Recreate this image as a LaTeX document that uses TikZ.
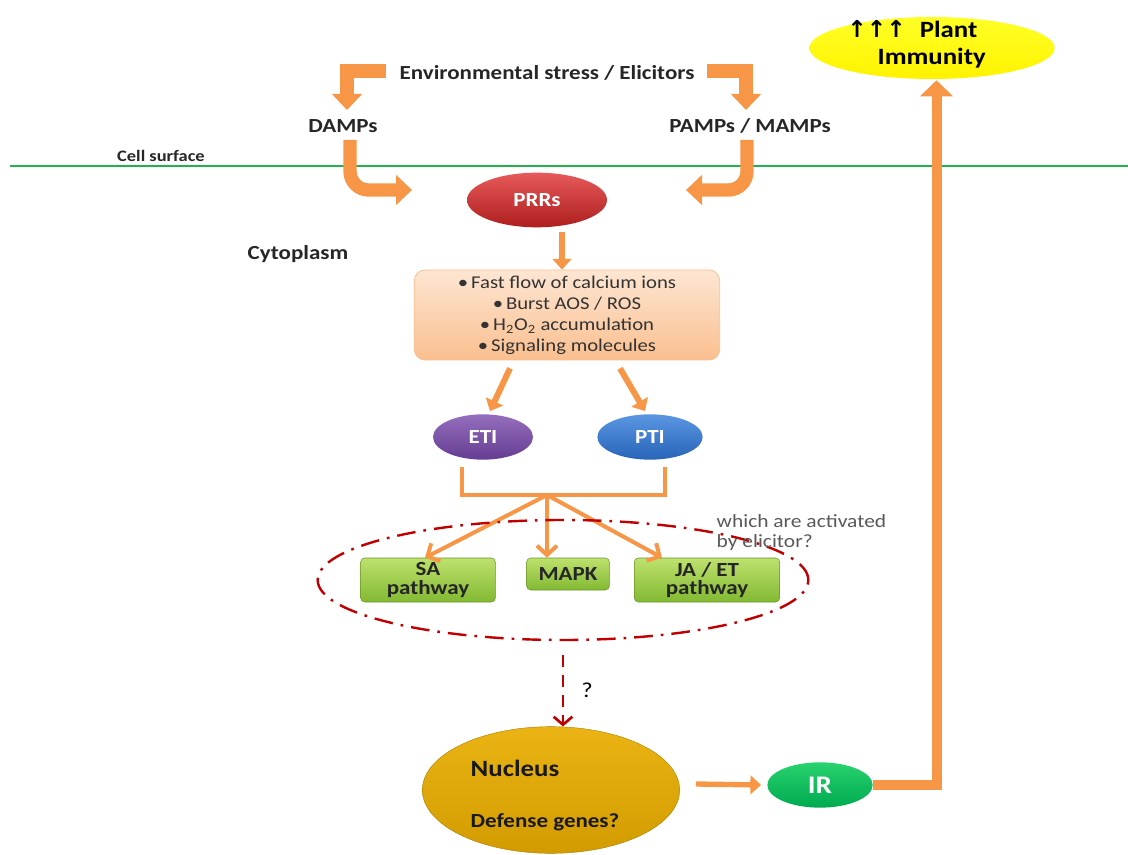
\documentclass[tikz,border=0pt]{standalone}
\usepackage{fontspec}
\setmainfont[FakeStretch=1.15]{Carlito}
\newfontfamily\symfont{DejaVu Sans}
\usetikzlibrary{arrows.meta,shapes.geometric,calc}
\definecolor{orA}{RGB}{247,150,70}
\definecolor{orD}{RGB}{228,108,10}
\definecolor{peach}{RGB}{252,213,181}
\definecolor{peachD}{RGB}{250,191,143}
\definecolor{lineG}{RGB}{34,177,76}
\definecolor{redD}{RGB}{192,0,0}
\definecolor{prrT}{RGB}{230,90,90}
\definecolor{prrB}{RGB}{175,30,30}
\definecolor{etiT}{RGB}{150,110,190}
\definecolor{etiB}{RGB}{100,60,145}
\definecolor{ptiT}{RGB}{90,150,225}
\definecolor{ptiB}{RGB}{40,100,185}
\definecolor{grT}{RGB}{190,225,110}
\definecolor{grB}{RGB}{130,185,50}
\definecolor{goldT}{RGB}{235,180,20}
\definecolor{goldB}{RGB}{210,155,0}
\definecolor{irT}{RGB}{40,210,110}
\definecolor{irB}{RGB}{0,170,80}
\begin{document}
\begin{tikzpicture}[x=0.75pt,y=-0.75pt,
  lbl/.style={font=\fontsize{15}{17}\selectfont\bfseries, text=black!85},
  oval/.style={ellipse, draw=none, font=\fontsize{15}{17}\selectfont\bfseries, text=white},
  pathbox/.style={rounded corners=3pt, draw=grB!80!black, line width=0.4pt, top color=grT, bottom color=grB, font=\fontsize{15}{16}\selectfont\bfseries, text=black!85, align=center, inner sep=1pt},
  fat/.style={draw=orA, line width=10pt, -{Triangle[length=12pt,width=22pt]}},
  mid/.style={draw=orA, line width=4.5pt, -{Triangle[length=8pt,width=14pt]}},
  thin/.style={draw=orA, line width=3pt, -{Straight Barb[length=7pt,width=15pt,line width=3pt]}},
]
\useasboundingbox (0,0) rectangle (1128,855);

% membrane
\draw[lineG, line width=1.6pt] (10,166) -- (1128,166);
\node[font=\fontsize{12}{13}\selectfont\bfseries, text=black!85] (cs) at (161,156) {Cell surface};
\node[lbl] (cyto) at (298,254) {Cytoplasm};

% top texts
\node[lbl] (env) at (547,73) {Environmental stress / Elicitors};
\node[lbl] (damps) at (343,126) {DAMPs};
\node[lbl] (pamps) at (750,126) {PAMPs / MAMPs};

\coordinate (el) at (386,71);
\coordinate (er) at (707,71);
\coordinate (dl) at (347,110);
\coordinate (dr) at (746,110);
\draw[fat] (el) -| (dl);
\draw[fat] (er) -| (dr);

% PRRs
\node[oval, minimum width=105pt, minimum height=41pt, top color=prrT, bottom color=prrB] (prr) at (537,200) {PRRs};
\coordinate (ds) at (350,140);
\coordinate (ps) at (747,140);
\coordinate (dt) at (412,190);
\coordinate (pt) at (686,190);
\draw[fat, rounded corners=14pt] (ds) |- (dt);
\draw[fat, rounded corners=14pt] (ps) |- (pt);

% box
\node[rounded corners=8pt, draw=peachD, line width=0.6pt, top color=peach!60, bottom color=peachD,
      minimum width=229pt, minimum height=67.5pt, align=center,
      font=\fontsize{13.5}{15.8}\selectfont, text=black!80] (box) at (567,315)
  {\textbullet\,Fast flow of calcium ions\\ \textbullet\,Burst AOS / ROS\\ \textbullet\,H\textsubscript{2}O\textsubscript{2} accumulation\\ \textbullet\,Signaling molecules};
\draw[mid] ($(prr.south)+(25,4)$) -- (box.north -| 562,0);

% ETI PTI
\node[oval, minimum width=75pt, minimum height=34pt, top color=etiT, bottom color=etiB] (eti) at (483,437) {ETI};
\node[oval, minimum width=79pt, minimum height=34pt, top color=ptiT, bottom color=ptiB] (pti) at (650,437) {PTI};
\draw[mid] ($(box.south)+(-57,8)$) -- ($(eti.north)+(7,-3)$);
\draw[mid] ($(box.south)+(53,8)$) -- ($(pti.north)+(-5,-3)$);

% bracket
\coordinate (bl) at (462,467);
\coordinate (br) at (665,467);
\coordinate (bm) at (547,495);
\draw[orA, line width=3.2pt] (bl) |- (bm) -| (br);

% pathways
\node[pathbox, minimum width=101pt, minimum height=33pt] (sa) at (428,580) {SA\\[-2pt]pathway};
\node[pathbox, minimum width=62pt, minimum height=24pt] (mapk) at (568,574) {MAPK};
\node[pathbox, minimum width=109pt, minimum height=33pt] (ja) at (707,580) {JA / ET\\[-2pt]pathway};
\draw[thin] (bm) -- ($(sa.north)+(-3,0)$);
\draw[thin] (bm) -- (mapk.north -| 547,0);
\draw[thin] (bm) -- ($(ja.north)+(-45,0)$);

% dash-dot ellipse
\draw[redD, line width=1.8pt, dash pattern=on 14pt off 6pt on 2pt off 6pt] (563,580) ellipse [x radius=184pt, y radius=45pt];
\node[font=\fontsize{14}{16}\selectfont, text=black!65, align=left, anchor=north west] (which) at (712,510) {which are activated\\[-1pt]by elicitor?};

% nucleus
\node[ellipse, minimum width=193pt, minimum height=95pt, top color=goldT, bottom color=goldB, draw=goldB!80!black, line width=0.3pt] (nuc) at (551,790) {};
\node[font=\fontsize{17.5}{19}\selectfont\bfseries, text=black!90, anchor=west] (nuct) at (466,768) {Nucleus};
\node[font=\fontsize{15}{17}\selectfont\bfseries, text=black!90, anchor=west] (defg) at (466,822) {Defense genes?};

\coordinate (rd1) at (563,655);
\draw[redD, line width=2pt, dash pattern=on 9pt off 6pt, -{Straight Barb[length=6pt,width=14pt,line width=2pt]}] (rd1) -- (nuc.north -| 563,0);
\node[font=\fontsize{16}{18}\selectfont\rmfamily, text=black] (q) at (587,690) {?};

% IR
\node[oval, minimum width=79pt, minimum height=34pt, top color=irT, bottom color=irB, font=\fontsize{19}{21}\selectfont\bfseries] (ir) at (820,785) {IR};
\draw[mid, line width=4pt] ($(nuc.east)+(16,-6)$) -- ($(ir.west)+(-6,0)$);

% plant immunity
\node[ellipse, minimum width=184pt, minimum height=46.5pt, top color=yellow!85!white, bottom color=yellow!90!orange, draw=none, inner sep=0pt] (pim) at (932,48) {};
\node[font=\fontsize{17.5}{20}\selectfont\bfseries, anchor=west, align=left, text=black, inner sep=0pt] (pimt) at (847,44)
  {{\symfont\bfseries ↑↑↑}\,\, Plant\\ \hspace*{1.3em}Immunity};
\draw[draw=orA, line width=7.5pt, -{Triangle[length=12pt,width=24pt]}] (ir.east) -| ($(pim.south)+(4.5,1)$);
\end{tikzpicture}
\end{document}
